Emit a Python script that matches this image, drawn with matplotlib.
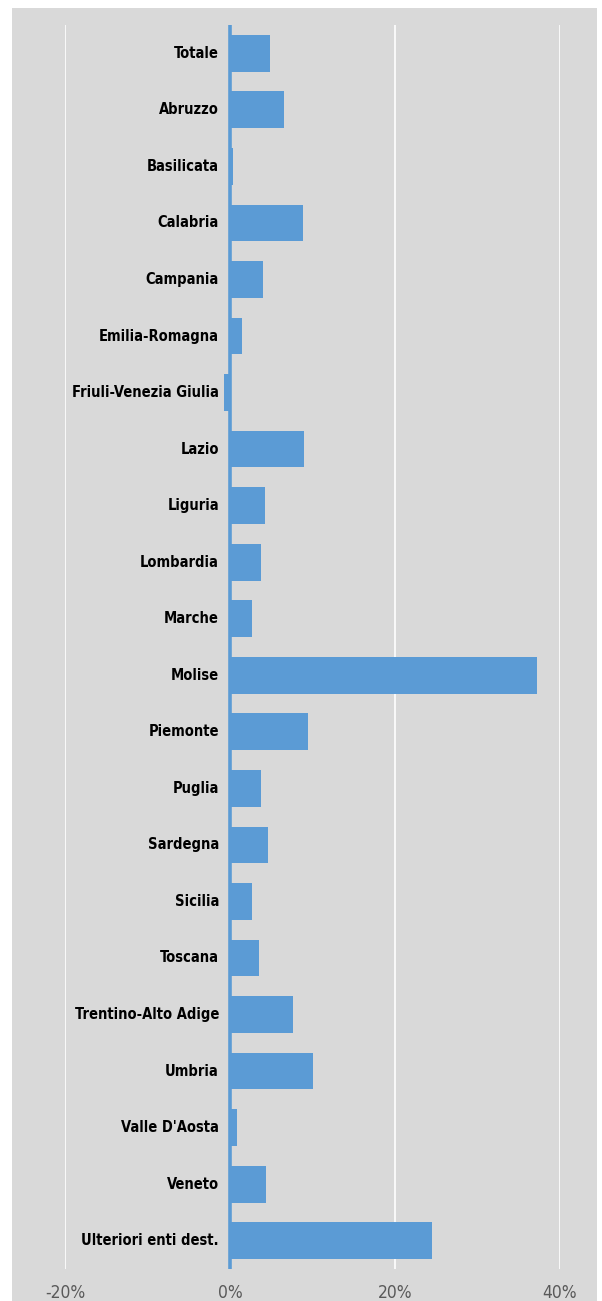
import matplotlib.pyplot as plt
from matplotlib.patches import Rectangle
from matplotlib.ticker import FuncFormatter

# Data (percent change)
regioni = ['Totale', 'Abruzzo', 'Basilicata', 'Calabria', 'Campania', 'Emilia-Romagna',
           'Friuli-Venezia Giulia', 'Lazio', 'Liguria', 'Lombardia', 'Marche', 'Molise',
           'Piemonte', 'Puglia', 'Sardegna', 'Sicilia', 'Toscana', 'Trentino-Alto Adige',
           'Umbria', "Valle D'Aosta", 'Veneto', 'Ulteriori enti dest.']
valori = [4.9, 6.6, 0.4, 8.9, 4.0, 1.5, -0.7, 9.0, 4.2, 3.8, 2.7, 37.2,
          9.4, 3.8, 4.6, 2.7, 3.5, 7.6, 10.0, 0.8, 4.4, 24.5]
ticks = [-20, 0, 20, 40]

blu = '#5b9bd5'
grigio = '#d9d9d9'

fig = plt.figure(figsize=(6.02, 13.01), dpi=100)
sfondo = Rectangle((12 / 602, 0), 585 / 602, 1 - 8 / 1301,
                   transform=fig.transFigure, facecolor=grigio,
                   edgecolor='none', zorder=-10)
fig.add_artist(sfondo)

ax = fig.add_axes([65 / 602, 1 - 1269 / 1301, 495 / 602, 1244 / 1301])
ax.set_zorder(1)
ax.patch.set_alpha(0)

pos = list(range(len(regioni)))
ax.barh(pos, valori, height=0.65, color=blu, zorder=3)
ax.axvline(0, color=blu, lw=2.6, zorder=4)

ax.set_xlim(-20, 40)
ax.set_ylim(len(regioni) - 0.5, -0.5)
ax.set_xticks(ticks)
ax.xaxis.set_major_formatter(FuncFormatter(lambda v, p: f'{v:.0f}%'))
ax.grid(axis='x', color='white', lw=1.2, zorder=1)
ax.set_axisbelow(True)
ax.set_yticks([])
ax.tick_params(axis='x', length=0, pad=11, labelcolor='#595959', labelsize=12.5)
for lab in ax.get_xticklabels():
    lab.set_family('DejaVu Sans')
    lab.set_stretch('condensed')
for s in ax.spines.values():
    s.set_visible(False)

# category names sit just left of the zero line
for i, nome in enumerate(regioni):
    ax.annotate(nome, (0, i), xytext=(-8, 0), textcoords='offset points',
                ha='right', va='center', fontsize=10.5, fontweight='bold',
                family='DejaVu Sans', fontstretch='condensed',
                color='black', zorder=5)

fig.savefig('out.png', dpi=100)
